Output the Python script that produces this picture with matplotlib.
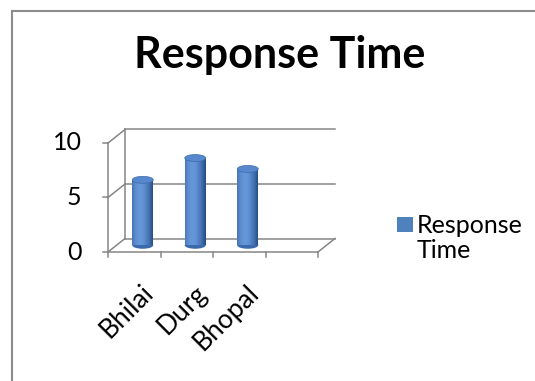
import numpy as np
import matplotlib.pyplot as plt
from matplotlib.patches import Ellipse, Rectangle
from matplotlib.lines import Line2D

plt.rcParams['font.family'] = ['Lato', 'DejaVu Sans']

# chart data
categories = ["Bhilai", "Durg", "Bhopal"]
response_time = [6, 8, 7]
series_name = "Response Time"
y_ticks = [0, 5, 10]
n_slots = 4

W, H = 535, 381
fig = plt.figure(figsize=(W / 100, H / 100), dpi=100)
ax = fig.add_axes([108 / W, 129 / H, 210 / W, 109 / H])
ax.set_xlim(-0.5, n_slots - 0.5)
ax.set_ylim(0, 10)
ax.axis("off")

grid = "#868686"
lw = 1.1

# depth of the 3d box, converted from pixels to data units
px_x = ax.bbox.width / n_slots
px_y = ax.bbox.height / 10
ddx, ddy = 17 / px_x, 13.5 / px_y
x0, x1 = -0.5, n_slots - 0.5

# back wall gridlines + left wall diagonals
for v in y_ticks:
    ax.plot([x0 + ddx, x1 + ddx], [v + ddy, v + ddy], color=grid, lw=lw, clip_on=False, zorder=1)
    ax.plot([x0, x0 + ddx], [v, v + ddy], color=grid, lw=lw, clip_on=False, zorder=1)
ax.plot([x0 + ddx, x0 + ddx], [ddy, 10 + ddy], color=grid, lw=lw, clip_on=False, zorder=1)
# floor: front edge and right diagonal
ax.plot([x0, x1], [0, 0], color=grid, lw=lw, clip_on=False, zorder=1)
ax.plot([x1, x1 + ddx], [0, ddy], color=grid, lw=lw, clip_on=False, zorder=1)
# front value axis
ax.plot([x0, x0], [0, 10], color=grid, lw=lw, clip_on=False, zorder=1)

# tick marks
tk = 5
for i in range(n_slots + 1):
    ax.plot([x0 + i, x0 + i], [0, -tk / px_y], color=grid, lw=lw, clip_on=False)
for v in y_ticks:
    ax.plot([x0 - tk / px_x, x0], [v, v], color=grid, lw=lw, clip_on=False)
    ax.annotate(str(v), (x0, v), xytext=(-19, 0), textcoords="offset points",
                ha="right", va="center", fontsize=18, color="black")

for i, name in enumerate(categories):
    ax.annotate(name, (i, 0), xytext=(5, -20), textcoords="offset points",
                ha="right", va="top", rotation=45, rotation_mode="anchor",
                fontsize=19, color="black")

# cylinders, placed halfway into the depth
dark = np.array([0x27, 0x50, 0x8a]) / 255
light = np.array([0x64, 0x96, 0xda]) / 255
bar_w = 0.4
n_strips = 40
t = (np.arange(n_strips) + 0.5) / n_strips
f = np.clip(np.cos((t - 0.38) * np.pi * 0.85), 0, 1)
strip_cols = [tuple(dark + (light - dark) * k) for k in f]
ell_h = 7 / px_y
for i, val in enumerate(response_time):
    xc = i + ddx / 2
    yb = ddy / 2
    left = xc - bar_w / 2 + np.arange(n_strips) * bar_w / n_strips
    ax.add_patch(Ellipse((xc, yb), bar_w, ell_h, facecolor="#3a6aac", lw=0, zorder=2))
    ax.bar(left, [val] * n_strips, width=bar_w / n_strips * 1.05, bottom=yb,
           align="edge", color=strip_cols, lw=0, zorder=3, clip_on=False)
    ax.add_patch(Ellipse((xc, yb + val), bar_w, ell_h, facecolor="#5787cc",
                         edgecolor="#3d6cae", lw=0.5, zorder=4, clip_on=False))

# title
fig.text(279.5 / W, 1 - 68 / H, series_name, ha="center", va="baseline",
         fontsize=31, fontweight="bold", color="black")

# legend
fig.patches.append(Rectangle((397 / W, 1 - 232 / H), 16 / W, 15 / H,
                             transform=fig.transFigure, facecolor="#4f81bd", lw=0))
fig.text(417 / W, 1 - 233 / H, series_name.split()[0], ha="left", va="baseline",
         fontsize=18, color="black")
fig.text(417 / W, 1 - 258 / H, series_name.split()[1], ha="left", va="baseline",
         fontsize=18, color="black")

# chart frame (top and left edges)
fig.lines.append(Line2D([12 / W, 12 / W], [0, 1 - 11 / H], transform=fig.transFigure,
                        color="#8c8c8c", lw=1.5))
fig.lines.append(Line2D([12 / W, 1], [1 - 11 / H, 1 - 11 / H], transform=fig.transFigure,
                        color="#8c8c8c", lw=1.5))

fig.savefig("out.png", dpi=100)
